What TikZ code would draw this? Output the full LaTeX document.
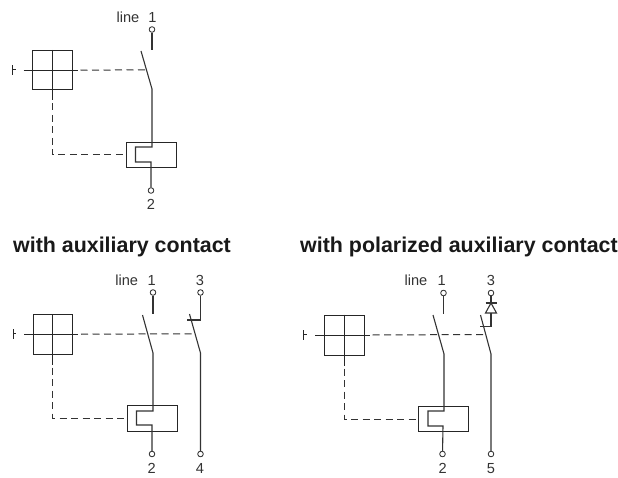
\documentclass[tikz,border=0pt]{standalone}
\usepackage{fontspec}
\setmainfont{Liberation Sans}
\tikzset{
  x=1pt,y=-1pt,
  wire/.style={line width=1.1pt,draw=black!80},
  box line/.style={line width=1pt,draw=black!85},
  dash wire/.style={line width=1pt,draw=black!80,dash pattern=on 7pt off 4.5pt},
  terminal/.style={circle,draw=black!85,line width=0.8pt,fill=white,inner sep=0pt,minimum size=5.6pt},
  lbl/.style={inner sep=0pt,anchor=base,font=\fontsize{14.6}{15}\selectfont,text=black!80},
  heading/.style={inner sep=0pt,anchor=base west,font=\fontsize{21.4}{22}\selectfont\bfseries,text=black!90},
  panel box/.style={draw=black!85,line width=1pt,inner sep=0pt,anchor=north west},
}
\newcommand{\handle}[6]{% box x, box y, size, stub x, stub y, name
  \node[panel box,minimum width=#3pt,minimum height=#3pt] (#6box) at (#1,#2) {};
  \coordinate (#6stub) at (#4,#5);
  \coordinate (#6L) at ([xshift=-8.5pt]#6box.west);
  \coordinate (#6R) at ([xshift=5pt]#6box.east);
  \coordinate (#6B) at ([yshift=-10pt]#6box.south);
  \draw[box line] (#6box.north) -- (#6B);
  \draw[box line] (#6L) -- (#6R);
  \draw[box line] ([yshift=-5pt]#6stub) -- ([yshift=5pt]#6stub);
  \draw[box line] (#6stub) -- ++(3,0);
}
\begin{document}
\begin{tikzpicture}
\useasboundingbox (0,0) rectangle (618,478);

% ---------- panel A ----------
\handle{32}{50}{39.5}{12.5}{69.75}{a}
\node[terminal] (a1) at (152,29.5) {};
\node[terminal] (a2) at (151,190.5) {};
\node[lbl] (a1l) at (152.5,22.5) {1};
\node[lbl] (alinel) at (128,22.5) {line};
\node[lbl] (a2l) at (151,210) {2};
\node[panel box,minimum width=49.5pt,minimum height=25pt] (arel) at (126,142) {};
\coordinate (atop) at (152,50);
\coordinate (atip) at (141,51);
\coordinate (ahinge) at (152,89);
\coordinate (ad) at (146,69.75);
\draw[wire] (a1) -- (atop);
\draw[wire] (atip) -- (ahinge) -- (152,147) -- (135.5,147) -- (135.5,162) -- (151,162) -- (a2);
\draw[dash wire] (aR) ++(3,0) -- (ad);
\draw[dash wire] (aB) ++(0,3) -- (aB |- arel.west) -- (arel.west);

% ---------- panel B ----------
\node[heading] (bh) at (13,253) {with auxiliary contact};
\handle{32.5}{314}{39.5}{13}{333.75}{b}
\node[terminal] (b1) at (153,292.5) {};
\node[terminal] (b2) at (152,454) {};
\node[terminal] (b3) at (200.5,292.5) {};
\node[terminal] (b4) at (200.5,454) {};
\node[lbl] (b1l) at (151.7,285) {1};
\node[lbl] (blinel) at (126.7,285) {line};
\node[lbl] (b2l) at (151.7,473.5) {2};
\node[lbl] (b3l) at (200,285) {3};
\node[lbl] (b4l) at (200,473.5) {4};
\node[panel box,minimum width=49.5pt,minimum height=25.5pt] (brel) at (127,405) {};
\coordinate (btop) at (153,313.5);
\coordinate (btip) at (142.5,315);
\coordinate (bhinge) at (153,353);
\coordinate (bcip) at (189.5,314);
\coordinate (bchinge) at (200.5,353);
\coordinate (bcorner) at (200.5,320);
\coordinate (bctip) at (186.5,320);
\coordinate (bd) at (195,333.75);
\draw[wire] (b1) -- (btop);
\draw[wire] (btip) -- (bhinge) -- (153,411) -- (136.5,411) -- (136.5,425) -- (152,425) -- (b2);
\draw[wire] (bcip) -- (bchinge) -- (b4);
\draw[wire] (b3) -- (bcorner) -- (bctip);
\draw[dash wire] (bR) ++(3,0) -- (bd);
\draw[dash wire] (bB) ++(0,3) -- (bB |- brel.west) -- (brel.west);

% ---------- panel C ----------
\node[heading] (ch) at (300,253) {with polarized auxiliary contact};
\handle{323.5}{314.5}{40}{303.5}{334.5}{c}
\node[terminal] (c1) at (443.5,293) {};
\node[terminal] (c2) at (442.5,454) {};
\node[terminal] (c3) at (491,293) {};
\node[terminal] (c5) at (491,454) {};
\node[lbl] (c1l) at (441.7,285) {1};
\node[lbl] (clinel) at (416,285) {line};
\node[lbl] (c2l) at (442.7,473.5) {2};
\node[lbl] (c3l) at (491,285) {3};
\node[lbl] (c5l) at (491,473.5) {5};
\node[panel box,minimum width=50pt,minimum height=25pt] (crel) at (417.5,406) {};
\coordinate (ctop) at (443.5,314);
\coordinate (ctip) at (433,315);
\coordinate (chinge) at (444,354);
\coordinate (ccip) at (480.5,315);
\coordinate (cchinge) at (491,354);
\coordinate (ddn) at (491,303);
\coordinate (dbl) at (485.5,313);
\coordinate (dbr) at (496.5,313);
\coordinate (dbase) at (491,313);
\coordinate (ccorner) at (491,326.5);
\coordinate (cctip) at (480,326.5);
\coordinate (cd) at (486,334.5);
\draw[wire] (c1) -- (ctop);
\draw[wire] (ctip) -- (chinge) -- (444,411) -- (428,411) -- (428,426) -- (443,426) -- (c2);
\draw[wire] (ccip) -- (cchinge) -- (c5);
\draw[wire] (c3) -- (ddn);
\draw[wire] (485.5,303) -- (496.5,303);
\draw[wire] (ddn) -- (dbl) -- (dbr) -- cycle;
\draw[wire] (dbase) -- (ccorner) -- (cctip);
\draw[dash wire] (cR) ++(3,0) -- (cd);
\draw[dash wire] (cB) ++(0,3) -- (cB |- crel.west) -- (crel.west);
\end{tikzpicture}
\end{document}
